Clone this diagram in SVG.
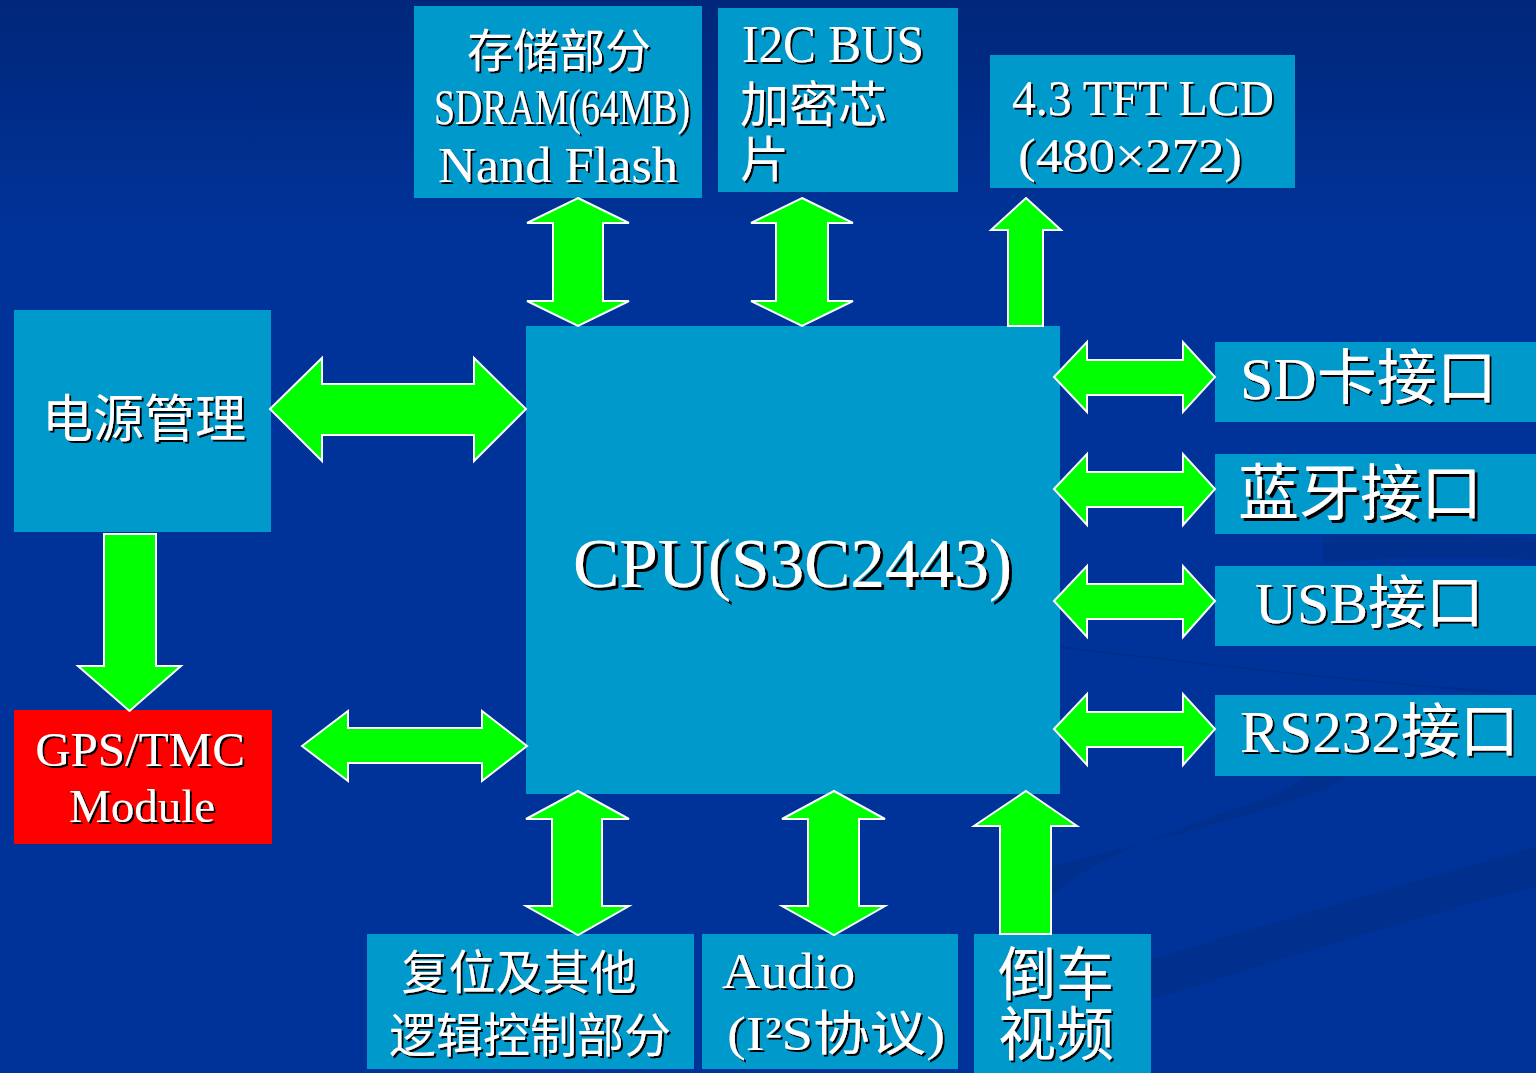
<svg xmlns="http://www.w3.org/2000/svg" width="1536" height="1073" viewBox="0 0 1536 1073">
<defs>
<linearGradient id="bg" x1="0" y1="0" x2="0" y2="1">
<stop offset="0" stop-color="#00277a"/>
<stop offset="0.22" stop-color="#003399"/>
<stop offset="1" stop-color="#003399"/>
</linearGradient>
<filter id="sh" x="-5%" y="-5%" width="115%" height="125%">
<feOffset in="SourceAlpha" dx="2" dy="2" result="o"/>
<feMerge><feMergeNode in="o"/><feMergeNode in="SourceGraphic"/></feMerge>
</filter>
<filter id="sh3" x="-5%" y="-5%" width="115%" height="125%">
<feOffset in="SourceAlpha" dx="3" dy="3" result="o"/>
<feMerge><feMergeNode in="o"/><feMergeNode in="SourceGraphic"/></feMerge>
</filter>
</defs>
<style>
.box{fill:#0099cc}
.red{fill:#ff0000}
.arr{fill:#00ff00;stroke:#ffffff;stroke-width:2;stroke-linejoin:miter}
text{fill:#ffffff}
.cjk{font-family:"Noto Sans CJK SC",sans-serif}
.ser{font-family:"Liberation Serif","Noto Sans CJK SC",serif}
.swoosh{fill:#002d88;opacity:0.7}
</style>
<rect width="1536" height="1073" fill="url(#bg)"/>
<g id="background">
<path class="swoosh" d="M1040,870 C1150,840 1330,800 1355,770 C1370,740 1330,720 1300,700 C1350,730 1340,770 1260,800 C1180,830 1100,850 1040,905 Z"/>
<path class="swoosh" d="M1150,960 C1280,920 1420,880 1536,847 L1536,887 C1420,915 1280,960 1150,1000 Z"/>
<path d="M1060,647 C1250,670 1400,685 1513,693" fill="none" stroke="#002d88" stroke-width="2" opacity="0.8"/>
<path class="swoosh" d="M1323,537 C1380,535 1460,535 1536,540 L1536,560 C1450,555 1380,558 1323,563 Z" opacity="0.4"/>
</g>
<g id="node-storage">
<rect class="box" x="414" y="6" width="288" height="192"/>
<g filter="url(#sh)">
<text class="cjk" x="559" y="67" font-size="46" text-anchor="middle">存储部分</text>
<text class="ser" x="434" y="124" font-size="50" textLength="256" lengthAdjust="spacingAndGlyphs">SDRAM(64MB)</text>
<text class="ser" x="438" y="182" font-size="50" textLength="240" lengthAdjust="spacingAndGlyphs">Nand Flash</text>
</g>
</g>
<g id="node-i2c">
<rect class="box" x="718" y="8" width="240" height="184"/>
<g filter="url(#sh)">
<text class="ser" x="742" y="62" font-size="52" textLength="182" lengthAdjust="spacingAndGlyphs">I2C BUS</text>
<text class="cjk" x="740" y="122" font-size="49">加密芯</text>
<text class="cjk" x="740" y="177" font-size="49">片</text>
</g>
</g>
<g id="node-lcd">
<rect class="box" x="990" y="55" width="305" height="133"/>
<g filter="url(#sh)">
<text class="ser" x="1012" y="115" font-size="50" textLength="262" lengthAdjust="spacingAndGlyphs">4.3 TFT LCD</text>
<text class="ser" x="1018" y="172" font-size="48" textLength="224" lengthAdjust="spacingAndGlyphs">(480×272)</text>
</g>
</g>
<g id="node-power">
<rect class="box" x="14" y="310" width="257" height="222"/>
<text class="cjk" x="144" y="437" font-size="51" text-anchor="middle" filter="url(#sh)">电源管理</text>
</g>
<g id="node-gps">
<rect class="red" x="14" y="710" width="258" height="134"/>
<g filter="url(#sh)">
<text class="ser" x="140" y="766" font-size="49" text-anchor="middle">GPS/TMC</text>
<text class="ser" x="142" y="822" font-size="47" text-anchor="middle">Module</text>
</g>
</g>
<g id="node-cpu">
<rect class="box" x="526" y="326" width="534" height="468"/>
<text class="ser" x="573" y="587" font-size="70" textLength="439" lengthAdjust="spacingAndGlyphs" filter="url(#sh3)">CPU(S3C2443)</text>
</g>
<g id="node-sd">
<rect class="box" x="1215" y="342" width="321" height="80"/>
<text class="ser" x="1240" y="399" font-size="60" filter="url(#sh)">SD卡接口</text>
</g>
<g id="node-bt">
<rect class="box" x="1215" y="454" width="321" height="80"/>
<text class="cjk" x="1238" y="515" font-size="61" filter="url(#sh3)">蓝牙接口</text>
</g>
<g id="node-usb">
<rect class="box" x="1215" y="566" width="321" height="80"/>
<text class="ser" x="1255" y="623" font-size="58" filter="url(#sh)">USB接口</text>
</g>
<g id="node-rs232">
<rect class="box" x="1215" y="695" width="321" height="81"/>
<text class="ser" x="1240" y="752" font-size="59" filter="url(#sh)">RS232接口</text>
</g>
<g id="node-reset">
<rect class="box" x="367" y="934" width="327" height="135"/>
<g filter="url(#sh)">
<text class="cjk" x="519" y="989" font-size="47" text-anchor="middle">复位及其他</text>
<text class="cjk" x="530" y="1052" font-size="47" text-anchor="middle">逻辑控制部分</text>
</g>
</g>
<g id="node-audio">
<rect class="box" x="702" y="934" width="256" height="135"/>
<g filter="url(#sh)">
<text class="ser" x="722" y="988" font-size="50" textLength="133" lengthAdjust="spacingAndGlyphs">Audio</text>
<text class="ser" x="727" y="1050" font-size="48" textLength="218" lengthAdjust="spacingAndGlyphs">(I²S协议)</text>
</g>
</g>
<g id="node-reverse">
<rect class="box" x="974" y="934" width="177" height="139"/>
<g filter="url(#sh)">
<text class="cjk" x="998" y="995" font-size="58">倒车</text>
<text class="cjk" x="998" y="1055" font-size="58">视频</text>
</g>
</g>
<g id="connectors">
<polygon class="arr" points="578,198 629,223 603,223 603,301 629,301 578,326 527,301 553,301 553,223 527,223"/>
<polygon class="arr" points="802,198 853,223 828,223 828,301 853,301 802,326 751,301 776,301 776,223 751,223"/>
<polygon class="arr" points="1026,198 1061,230 1043,230 1043,326 1008,326 1008,230 991,230"/>
<polygon class="arr" points="270,409 322,358 322,384 474,384 474,358 526,409 474,461 474,435 322,435 322,461"/>
<polygon class="arr" points="104,534 156,534 156,666 181,666 129.5,711 78,666 104,666"/>
<polygon class="arr" points="302,746 348,711 348,728 482,728 482,711 527,746 482,781 482,763 348,763 348,781"/>
<polygon class="arr" points="1054,377 1087,342 1087,360 1183,360 1183,342 1215,377 1183,412 1183,395 1087,395 1087,412"/>
<polygon class="arr" points="1054,489 1087,454 1087,472 1183,472 1183,454 1215,489 1183,525 1183,507 1087,507 1087,525"/>
<polygon class="arr" points="1054,601 1087,566 1087,584 1183,584 1183,566 1215,601 1183,637 1183,619 1087,619 1087,637"/>
<polygon class="arr" points="1054,729 1087,694 1087,712 1183,712 1183,694 1215,729 1183,765 1183,747 1087,747 1087,765"/>
<polygon class="arr" points="578,791 629,819 602,819 602,906 629,906 578,935 526,906 552,906 552,819 526,819"/>
<polygon class="arr" points="834,791 885,819 859,819 859,906 885,906 834,935 782,906 808,906 808,819 782,819"/>
<polygon class="arr" points="1026,791 1077,826 1051,826 1051,934 1000,934 1000,826 974,826"/>
</g>
</svg>
